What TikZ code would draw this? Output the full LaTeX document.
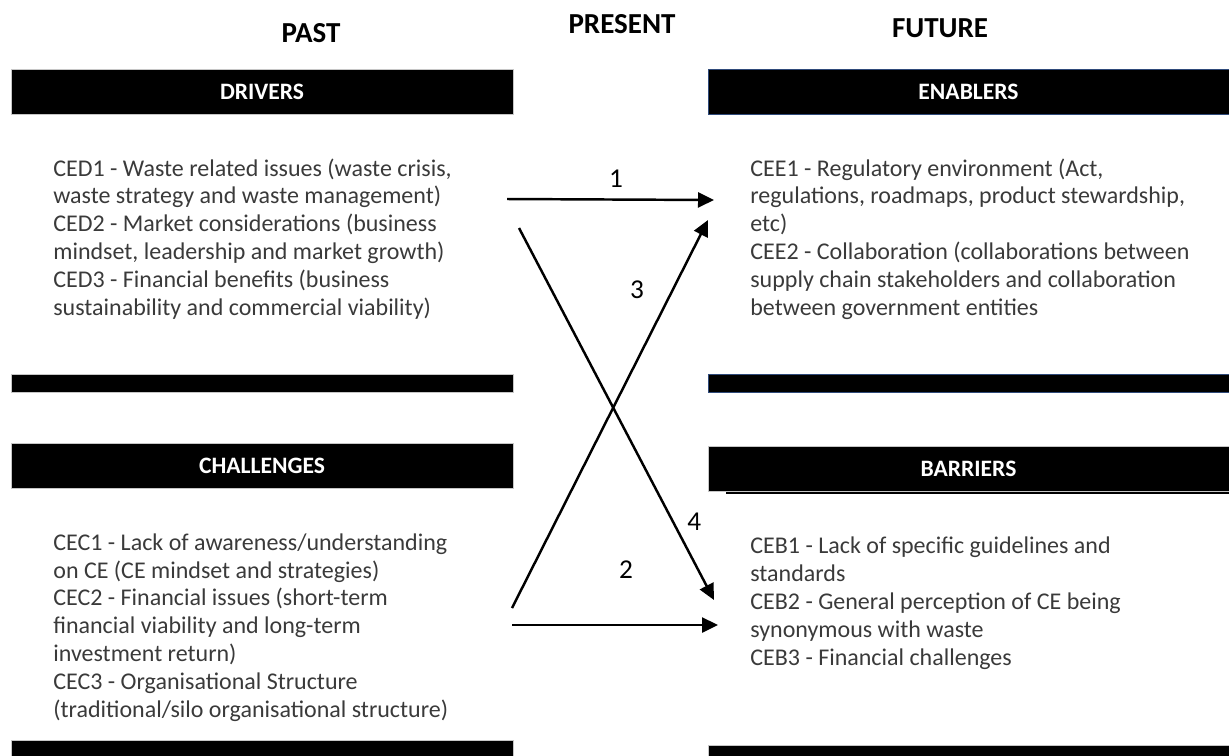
\documentclass[tikz,border=0pt]{standalone}
\usepackage{fontspec}
\setmainfont{Carlito}
\usetikzlibrary{arrows.meta,positioning}
\definecolor{bodygray}{HTML}{3A3A3A}
\definecolor{edgeblue}{HTML}{2F4A7A}
\tikzset{
    era/.style={font=\fontsize{16.5}{18}\selectfont\bfseries, inner sep=0pt},
    headbar/.style={fill=black, draw=gray!45, line width=0.5pt, text=white,
        font=\fontsize{13.4}{15}\selectfont\bfseries, inner sep=0pt, minimum height=0.9cm},
    stripbar/.style={fill=black, draw=gray!45, line width=0.5pt, inner sep=0pt, minimum height=0.36cm},
    items/.style={align=left, anchor=base west, inner sep=0pt, text=bodygray,
        font=\fontsize{13.66}{15.8}\selectfont},
    num/.style={inner sep=0pt, font=\fontsize{15.5}{17}\selectfont},
    link/.style={-{Triangle[length=0.32cm,width=0.3cm]}, line width=1.4pt}
}
\begin{document}
\begin{tikzpicture}[x=0.02cm, y=-0.02cm]
    \useasboundingbox (0,0) rectangle (1229,755);

    % column titles
    \node[era] (past) at (311,33) {PAST};
    \node[era] (present) at (622,24) {PRESENT};
    \node[era] (future) at (940,28) {FUTURE};

    % past column (text nodes sit on the baseline of their last line)
    \node[headbar, minimum width=10.04cm] (drv) at (262,91.5) {DRIVERS};
    \node[items] (drvtxt) at (53,315) {CED1 - Waste related issues (waste crisis,\\
        waste strategy and waste management)\\
        CED2 - Market considerations (business\\
        mindset, leadership and market growth)\\
        CED3 - Financial benefits (business\\
        sustainability and commercial viability)};
    \node[stripbar, minimum width=10.04cm] (drvend) at (262,383) {};
    \node[headbar, minimum width=10.04cm] (chl) at (262,465.5) {CHALLENGES};
    \node[items] (chltxt) at (53,717) {CEC1 - Lack of awareness/understanding\\
        on CE (CE mindset and strategies)\\
        CEC2 - Financial issues (short-term\\
        financial viability and long-term\\
        investment return)\\
        CEC3 - Organisational Structure\\
        (traditional/silo organisational structure)};
    \node[stripbar, minimum width=10.04cm, minimum height=0.32cm] (chlend) at (262,748) {};

    % future column
    \node[headbar, draw=edgeblue, minimum width=10.42cm] (enb) at (968.5,91.5) {ENABLERS};
    \node[items] (enbtxt) at (750,315) {CEE1 - Regulatory environment (Act,\\
        regulations, roadmaps, product stewardship,\\
        etc)\\
        CEE2 - Collaboration (collaborations between\\
        supply chain stakeholders and collaboration\\
        between government entities};
    \node[stripbar, draw=edgeblue, minimum width=10.42cm] (enbend) at (968.5,383) {};
    \fill (726,486) rectangle (1229,494);
    \node[headbar, minimum width=10.42cm] (bar) at (968.5,469) {BARRIERS};
    \node[items] (bartxt) at (750,665) {CEB1 - Lack of specific guidelines and\\
        standards\\
        CEB2 - General perception of CE being\\
        synonymous with waste\\
        CEB3 - Financial challenges};
    \node[stripbar, minimum width=10.42cm, minimum height=0.22cm] (barend) at (968.5,750.5) {};

    % links
    \coordinate (d1) at (507,199);
    \coordinate (d4) at (519,228);
    \coordinate (c3) at (512,608);
    \coordinate (c2) at (512,625);
    \coordinate (e1) at (714,200);
    \coordinate (e3) at (708,220);
    \coordinate (b4) at (714,600);
    \coordinate (b2) at (718,625);

    \draw[link] (d1) -- node[num, pos=0.527, above=0.22cm] (n1) {1} (e1);
    \draw[link] (c2) -- node[num, pos=0.553, above=0.9cm] (n2) {2} (b2);
    \draw[link] (c3) -- node[num, pos=0.82, left=0.55cm] (n3) {3} (e3);
    \draw[link] (d4) -- node[num, pos=0.79, right=0.26cm] (n4) {4} (b4);
\end{tikzpicture}
\end{document}
